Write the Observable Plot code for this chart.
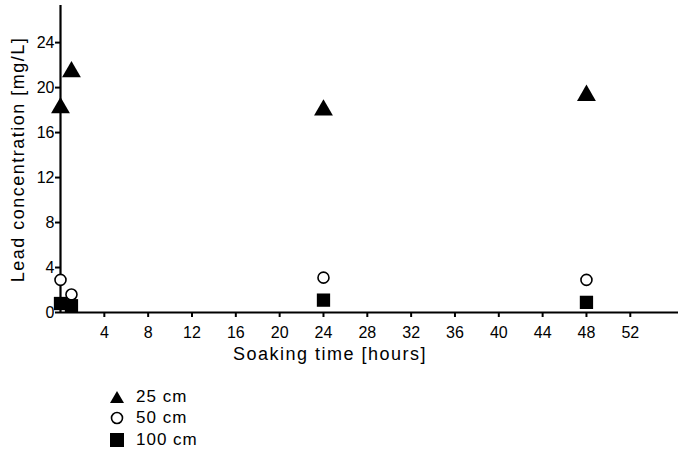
<!DOCTYPE html>
<html><head><meta charset="utf-8">
<script src="https://cdn.jsdelivr.net/npm/d3@7"></script>
<script src="https://cdn.jsdelivr.net/npm/@observablehq/plot@0.6"></script>
<style>
body{margin:0;background:#fff;font-family:"Liberation Sans",Arial,sans-serif;}
#legend{position:relative;margin-left:108px;margin-top:16px;font-size:17px;letter-spacing:1px;color:#000;}
#legend div{height:21.5px;display:flex;align-items:center;}
#legend svg{width:18px;height:16px;margin-right:10px;}
</style>
</head><body>
<div id="chart"></div>
<div id="legend"></div>
<script>
const hours = [0, 1, 24, 48];
const series = ["25 cm", "50 cm", "100 cm"];
const conc25 = [18.2, 21.4, 18.0, 19.3];
const conc50 = [2.9, 1.6, 3.1, 2.9];
const conc100 = [0.8, 0.6, 1.1, 0.9];
const xTicks = [4, 8, 12, 16, 20, 24, 28, 32, 36, 40, 44, 48, 52];
const yTicks = [0, 4, 8, 12, 16, 20, 24];

const rows = [];
[conc25, conc50, conc100].forEach((vals, i) =>
  vals.forEach((v, j) => rows.push({series: series[i], t: hours[j], c: v})));

const chart = Plot.plot({
  width: 678, height: 370,
  marginLeft: 60, marginRight: 0, marginTop: 5, marginBottom: 58,
  style: {fontFamily: "Liberation Sans, Arial, sans-serif", fontSize: "16px", color: "#000"},
  x: {domain: [0, 56.4], label: null},
  y: {domain: [0, 27.3], label: null},
  marks: [
    Plot.axisX({ticks: xTicks, tickSize: 5, tickPadding: 9, strokeWidth: 2, fontSize: 16}),
    Plot.axisY({ticks: yTicks, tickSize: 5, tickPadding: 1, strokeWidth: 2, fontSize: 16}),
    Plot.ruleY([0], {stroke: "black", strokeWidth: 2.2}),
    Plot.ruleX([0], {stroke: "black", strokeWidth: 2.2}),
    Plot.dot(rows.filter(d => d.series === "25 cm"), {x: "t", y: "c", symbol: "triangle", r: 7, fill: "black"}),
    Plot.dot(rows.filter(d => d.series === "50 cm"), {x: "t", y: "c", symbol: "circle", r: 5.5, fill: "white", stroke: "black", strokeWidth: 1.6}),
    Plot.dot(rows.filter(d => d.series === "100 cm"), {x: "t", y: "c", symbol: "square", r: 7.5, fill: "black"}),
    Plot.text(["Soaking time [hours]"], {frameAnchor: "bottom", dy: 47, fontSize: 18, x: 24.6, style: "letter-spacing:1.5px"}),
    Plot.text(["Lead concentration [mg/L]"], {frameAnchor: "left", dx: -42, rotate: -90, fontSize: 18, textAnchor: "middle", y: 13.6, style: "letter-spacing:1.5px"})
  ]
});
chart.querySelectorAll("text").forEach(t => {
  if (t.textContent.includes("Soaking") || t.textContent.includes("Lead")) t.style.letterSpacing = "1.5px";
});
document.getElementById("chart").append(chart);

const leg = document.getElementById("legend");
const shapes = [
  '<polygon points="2,14 9,2 16,14" fill="black"/>',
  '<circle cx="9" cy="8" r="5.5" fill="white" stroke="black" stroke-width="1.6"/>',
  '<rect x="2" y="1" width="14" height="14" fill="black"/>'
];
series.forEach((s, i) => {
  const d = document.createElement("div");
  d.innerHTML = `<svg viewBox="0 0 18 16">${shapes[i]}</svg><span>${s}</span>`;
  leg.append(d);
});
</script>
</body></html>
